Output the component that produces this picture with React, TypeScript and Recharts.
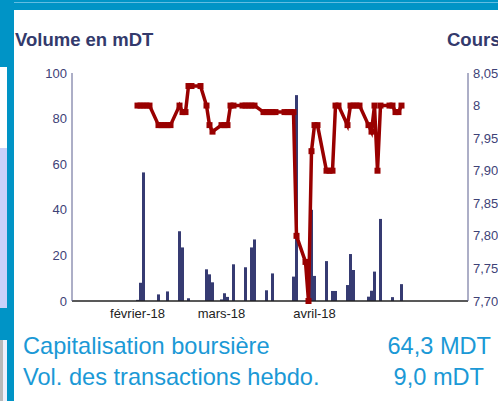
import React from "react";
import { ComposedChart, Bar, Line, XAxis, YAxis } from "recharts";

// calendar axis: one category per day
const startDay = "2018-01-11";
const dayCount = 131;

const tradeDates = [
  "2018-02-01", "2018-02-02", "2018-02-03", "2018-02-04", "2018-02-05",
  "2018-02-08", "2018-02-09", "2018-02-10", "2018-02-11", "2018-02-12",
  "2018-02-15", "2018-02-16", "2018-02-17", "2018-02-18", "2018-02-19",
  "2018-02-22", "2018-02-24", "2018-02-25", "2018-02-26",
  "2018-03-01", "2018-03-02", "2018-03-03", "2018-03-04", "2018-03-05",
  "2018-03-08", "2018-03-09", "2018-03-10", "2018-03-11", "2018-03-12",
  "2018-03-15", "2018-03-16", "2018-03-17", "2018-03-18", "2018-03-19",
  "2018-03-22", "2018-03-23", "2018-03-24", "2018-03-25", "2018-03-26",
  "2018-03-29", "2018-03-30", "2018-03-31", "2018-04-01", "2018-04-02",
  "2018-04-05", "2018-04-06", "2018-04-07", "2018-04-08", "2018-04-09",
  "2018-04-12", "2018-04-13", "2018-04-14", "2018-04-15", "2018-04-16",
  "2018-04-19", "2018-04-20", "2018-04-21", "2018-04-22", "2018-04-23",
  "2018-04-26", "2018-04-27", "2018-04-28", "2018-04-29", "2018-04-30",
];

// volume en mDT
const volumes = [
  0.5, 8, 56.4, 0, 0,
  2.9, 0, 0, 4.2, 0,
  30.6, 23.5, 0, 1.2, 0,
  0, 13.9, 11.7, 8.2,
  0.7, 3.4, 1.8, 0, 16.1,
  0, 14.8, 0, 23.5, 27,
  0, 4.7, 0, 12.1, 0,
  0, 0, 0, 10.7, 90.3,
  0, 0, 40, 11, 0,
  17.5, 0, 4.4, 4.4, 0,
  7, 20.6, 13.6, 0, 0,
  1.9, 4.5, 12.9, 0, 36,
  0, 1.7, 0, 0, 7.4,
];

// cours
const prices = [
  8, 8, 8, 8, 8,
  7.97, 7.97, 7.97, 7.97, 7.97,
  8, 7.99, 7.99, 8.03, 8.03,
  8.03, 8, 7.97, 7.96,
  7.97, 7.97, 7.97, 8, 8,
  8, 8, 8, 8, 8,
  7.99, 7.99, 7.99, 7.99, 7.99,
  7.99, 7.99, 7.99, 7.99, 7.8,
  7.76, 7.7, 7.93, 7.97, 7.97,
  7.9, 7.9, 7.9, 8, 8,
  7.97, 8, 8, 8, 8,
  7.97, 7.96, 8, 7.9, 8,
  8, 8, 7.99, 7.99, 8,
];

const volumeTicks = [0, 20, 40, 60, 80, 100];
const priceTicks = [7.7, 7.75, 7.8, 7.85, 7.9, 7.95, 8, 8.05];
const monthTicks = ["2018-02-01", "2018-03-01", "2018-04-01"];
const moisFr = ["janvier", "février", "mars", "avril", "mai", "juin", "juillet", "août", "septembre", "octobre", "novembre", "décembre"];

const days: string[] = [];
const t0 = Date.parse(startDay + "T00:00:00Z");
for (let i = 0; i < dayCount; i++) {
  days.push(new Date(t0 + i * 86400000).toISOString().slice(0, 10));
}

const data = days.map((d) => {
  const i = tradeDates.indexOf(d);
  return {
    date: d,
    volume: i >= 0 && volumes[i] > 0 ? volumes[i] : null,
    cours: i >= 0 ? prices[i] : null,
  };
});

const FONT = "'Liberation Sans', Arial, Helvetica, sans-serif";
const NAVY = "#3e4277";
const BLUE = "#0094c6";

const fmtMonth = (d: string) => {
  const [y, m] = d.split("-");
  return `${moisFr[Number(m) - 1]}-${y.slice(2)}`;
};

const fmtPrice = (v: number) => (v === 8 ? "8" : v.toFixed(2).replace(".", ","));

const SquareDot = (props: any) => {
  const { cx, cy, index } = props;
  if (cx == null || cy == null) return <g key={`n${index}`} />;
  return <rect key={`d${index}`} x={cx - 3} y={cy - 3} width={6} height={6} fill="#990000" />;
};

export default function App() {
  return (
    <div style={{ position: "absolute", left: 0, top: 0, width: 498, height: 401, overflow: "hidden", background: "#fff", fontFamily: FONT }}>
      {/* page frame */}
      <div style={{ position: "absolute", left: 0, top: 0, width: 498, height: 10, background: BLUE }} />
      <div style={{ position: "absolute", left: 0, top: 2, width: 498, height: 1, background: "#62bde2" }} />
      <div style={{ position: "absolute", left: 0, top: 0, width: 14, height: 401, background: BLUE }} />
      <div style={{ position: "absolute", left: 0, top: 67, width: 7, height: 81, background: "#fff" }} />
      <div style={{ position: "absolute", left: 0, top: 148, width: 7, height: 160, background: "#c9d1fa" }} />
      <div style={{ position: "absolute", left: 0, top: 340, width: 3, height: 61, background: "#b9b9b9" }} />
      <div style={{ position: "absolute", left: 3, top: 340, width: 4, height: 61, background: "#eef0fb" }} />

      <div style={{ position: "absolute", left: 15, top: 31, fontSize: 18.5, lineHeight: "18.5px", fontWeight: "bold", color: "#333a6c", whiteSpace: "nowrap" }}>
        Volume en mDT
      </div>
      <div style={{ position: "absolute", left: 447, top: 31, fontSize: 18.5, lineHeight: "18.5px", fontWeight: "bold", color: "#333a6c", whiteSpace: "nowrap" }}>
        Cours
      </div>

      <div style={{ position: "absolute", left: 0, top: 0 }}>
        <ComposedChart
          width={498}
          height={401}
          data={data}
          margin={{ top: 73, right: 0, bottom: 70, left: 32 }}
          barCategoryGap={0}
          barGap={0}
        >
          <XAxis
            dataKey="date"
            ticks={monthTicks}
            interval={0}
            tickFormatter={fmtMonth}
            tickLine={false}
            axisLine={{ stroke: "#222", strokeWidth: 1.5 }}
            tick={{ fontSize: 13, fill: "#222", fontFamily: FONT }}
            padding={{ left: 1, right: 2 }}
            height={30}
          />
          <YAxis
            yAxisId="v"
            domain={[0, 100]}
            ticks={volumeTicks}
            tickLine={false}
            tickSize={5}
            tickMargin={0}
            axisLine={{ stroke: "#5b5e8f" }}
            tick={{ fontSize: 13, fill: NAVY, fontFamily: FONT }}
            width={40}
          />
          <YAxis
            yAxisId="c"
            orientation="right"
            domain={[7.7, 8.05]}
            ticks={priceTicks}
            tickFormatter={fmtPrice}
            tickLine={false}
            tickSize={5}
            tickMargin={0}
            axisLine={{ stroke: "#5b5e8f" }}
            tick={{ fontSize: 13, fill: NAVY, fontFamily: FONT }}
            width={30}
          />
          <Bar yAxisId="v" dataKey="volume" fill="#363b72" barSize={2.98} isAnimationActive={false} />
          <Line
            yAxisId="c"
            dataKey="cours"
            type="linear"
            stroke="#990000"
            strokeWidth={3.5}
            connectNulls
            dot={SquareDot}
            activeDot={false}
            isAnimationActive={false}
          />
        </ComposedChart>
      </div>

      <div style={{ position: "absolute", left: 23, top: 335, fontSize: 23.6, lineHeight: "23.6px", color: "#1b99d6", whiteSpace: "nowrap" }}>
        Capitalisation boursière
      </div>
      <div style={{ position: "absolute", right: 7, top: 335, fontSize: 23.6, lineHeight: "23.6px", color: "#1b99d6", whiteSpace: "nowrap" }}>
        64,3 MDT
      </div>
      <div style={{ position: "absolute", left: 23, top: 366, fontSize: 23.6, lineHeight: "23.6px", color: "#1b99d6", whiteSpace: "nowrap" }}>
        Vol. des transactions hebdo.
      </div>
      <div style={{ position: "absolute", right: 14, top: 366, fontSize: 23.6, lineHeight: "23.6px", color: "#1b99d6", whiteSpace: "nowrap" }}>
        9,0 mDT
      </div>
    </div>
  );
}
